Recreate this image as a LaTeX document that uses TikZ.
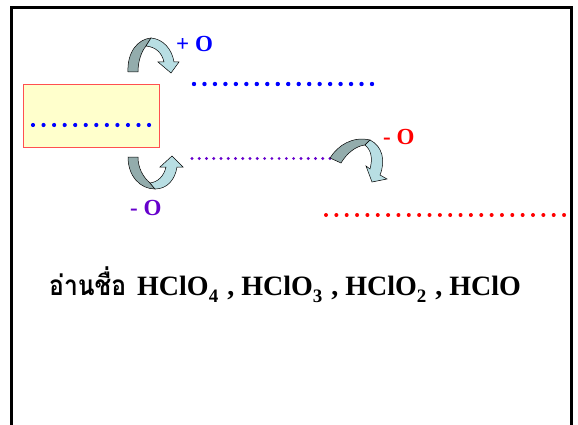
\documentclass[tikz,border=0pt]{standalone}
\usepackage{fontspec}
\setmainfont{Liberation Serif}
\newfontfamily\thaifont[Script=Thai, FakeStretch=0.88]{Loma}

\definecolor{inkblue}{HTML}{0000FF}
\definecolor{inkpurple}{HTML}{6600CC}
\definecolor{inkred}{HTML}{FF0000}
\definecolor{boxfill}{HTML}{FFFFCC}
\definecolor{boxline}{HTML}{FF5050}
\definecolor{bandback}{HTML}{93ACAC}
\definecolor{bandfront}{HTML}{B8DEE3}

\newcommand{\subidx}[1]{\raisebox{-7pt}{\fontsize{19}{19}\selectfont #1}\hspace{2pt}}

\begin{document}
\begin{tikzpicture}[x=1pt, y=-1pt,
  frameline/.style={line width=3pt, draw=black},
  namebox/.style={fill=boxfill, draw=boxline, line width=0.8pt},
  bandrear/.style={fill=bandback, draw=black, line width=0.5pt},
  bandfore/.style={fill=bandfront, draw=black, line width=0.5pt},
  oxlabel/.style={font=\fontsize{23}{23}\selectfont\bfseries, inner sep=0pt, anchor=base west},
  bigtext/.style={font=\fontsize{28}{28}\selectfont\bfseries, inner sep=0pt, anchor=base west}]

\useasboundingbox (0,0) rectangle (578,425);

% page frame, open at the bottom
\draw[frameline] (11.5,425) -- (11.5,8) -- (571.5,8) -- (571.5,425);

% yellow box with its dotted blank
\draw[namebox] (23,84) rectangle (159,147);
\foreach \i in {0,...,11} \fill[inkblue] (33+\i*10.55,125) circle (2.1pt);

% upper blank (+O)
\foreach \i in {0,...,17} \fill[inkblue] (194+\i*10.47,84) circle (2.2pt);

% middle blank (-O)
\foreach \i in {0,...,19} \fill[inkpurple] (192+\i*7.26,158.5) circle (1.6pt);

% lower blank (-O again)
\foreach \i in {0,...,23} \fill[inkred] (326+\i*10.35,215) circle (2pt);

% curved arrow over the box
\draw[bandrear] (128,72) .. controls (127,52) and (138,39) .. (151,38)
  -- (146,46) .. controls (141,52) and (138,62) .. (138,72) -- cycle;
\draw[bandfore] (151,38) .. controls (163,39) and (172,49) .. (174,62)
  -- (179,62) -- (171,73) -- (158,62) -- (164,62)
  .. controls (162,53) and (156,47) .. (146,46) -- cycle;

% curved arrow under the box
\draw[bandrear] (128,157) .. controls (128,176) and (140,189) .. (155,189)
  -- (150,183) .. controls (143,177) and (138,168) .. (138,157) -- cycle;
\draw[bandfore] (155,189) .. controls (167,189) and (175,180) .. (177,167)
  -- (183,167) -- (172,156) -- (160,167) -- (166,167)
  .. controls (164,176) and (158,182) .. (150,183) -- cycle;

% curved arrow from the middle blank down to the lower one
\draw[bandrear] (330,158) .. controls (338,145) and (353,136) .. (370,140)
  -- (365,145) .. controls (356,146) and (347,153) .. (341,163) -- cycle;
\draw[bandfore] (370,140) .. controls (382,146) and (386,160) .. (380,175)
  -- (387,179) -- (372,182) -- (366,166) -- (370,169)
  .. controls (373,158) and (371,150) .. (365,145) -- cycle;

% labels
\node[oxlabel, text=inkblue] (plusO) at (176,51.5) {+ O};
\node[oxlabel, text=inkpurple] (minusO) at (130,215) {- O};
\node[oxlabel, text=inkred] (minusOb) at (383,145) {- O};

% question line
\node[bigtext] (question) at (49,295)
  {{\thaifont อ่านชื่อ}\hspace{11pt}HClO\subidx{4} , HClO\subidx{3} , HClO\subidx{2} , HClO};
\end{tikzpicture}
\end{document}
